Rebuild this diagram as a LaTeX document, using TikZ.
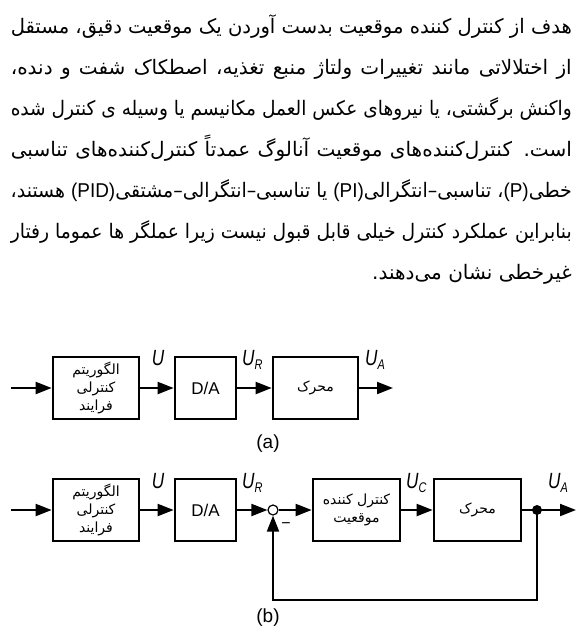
\documentclass[tikz,border=0pt]{standalone}
\usepackage{fontspec}
\usepackage{graphicx}
\usetikzlibrary{arrows.meta}
\TeXXeTstate=1
\newfontfamily\arabicfont[Script=Arabic]{DejaVu Sans}
\newfontfamily\latinsans{Liberation Sans}
\newlength\parw
\setlength\parw{561pt}
\newcommand\jline[1]{%
  \setbox0\hbox{\beginR #1\endR}%
  \ifdim\wd0>\parw \resizebox{\parw}{\height}{\box0}%
  \else \hbox to \parw{\beginR #1\endR}\fi}
\newcommand\lat[1]{\beginL{\latinsans #1}\endL}
\newcommand\sigl[2]{\scalebox{0.78}[1]{U\raisebox{-4.5pt}{\fontsize{14}{14}\selectfont #2}}}
\begin{document}
\begin{tikzpicture}[x=1pt,y=-1pt,
  blk/.style={draw, line width=2.7pt, inner sep=0pt, minimum height=62pt, align=center,
    font=\arabicfont\fontsize{14}{18}\selectfont},
  conn/.style={line width=2pt, -{Triangle[length=16pt,width=12pt]}},
  wire/.style={line width=2pt},
  sig/.style={font=\latinsans\itshape\fontsize{22}{22}\selectfont, inner sep=0pt},
  para/.style={anchor=base east, inner sep=0pt, font=\arabicfont\fontsize{20}{22}\selectfont},
  captxt/.style={font=\latinsans\fontsize{19}{19}\selectfont, inner sep=0pt}
]
\fill[white] (0,0) rectangle (582,630);
\useasboundingbox (0,0) rectangle (582,630);

% paragraph
\node[para] (l1) at (572,33) {\jline{هدف از کنترل کننده موقعیت بدست آوردن یک موقعیت دقیق، مستقل}};
\node[para] (l2) at (572,74) {\jline{از اختلالاتی مانند تغییرات ولتاژ منبع تغذیه، اصطکاک شفت و دنده،}};
\node[para] (l3) at (572,115) {\jline{واکنش برگشتی، یا نیروهای عکس العمل مکانیسم یا وسیله ی کنترل شده}};
\node[para] (l4) at (572,156) {\jline{است. کنترل‌کننده‌های موقعیت آنالوگ عمدتاً کنترل‌کننده‌های تناسبی}};
\node[para] (l5) at (572,197) {\jline{خطی\lat{(P)}، تناسبی–انتگرالی\lat{(PI)} یا تناسبی–انتگرالی–مشتقی\lat{(PID)} هستند،}};
\node[para] (l6) at (572,238) {\jline{بنابراین عملکرد کنترل خیلی قابل قبول نیست زیرا عملگر ها عموما رفتار}};
\node[para] (l7) at (572,279) {\beginR غیرخطی نشان می‌دهند.\endR};

% diagram (a)
\coordinate (ina) at (11,388);
\node[blk, minimum width=86pt] (alga) at (96,388) {الگوریتم\\کنترلی\\فرایند};
\node[blk, minimum width=61pt, font=\latinsans\fontsize{17}{17}\selectfont] (daa) at (205.5,388) {D/A};
\node[blk, minimum width=85pt] (mota) at (315.5,388) {محرک};
\coordinate (outa) at (393,388);
\draw[conn] (ina) -- (alga);
\draw[conn] (alga) -- (daa);
\draw[conn] (daa) -- (mota);
\draw[conn] (mota) -- (outa);
\node[sig] (ua) at (158,358) {\scalebox{0.78}[1]{U}};
\node[sig, anchor=north west] (ura) at (242,350) {\sigl{U}{R}};
\node[sig, anchor=north west] (uaa) at (365,350) {\sigl{U}{A}};
\node[captxt] (capa) at (268,444) {(a)};

% diagram (b)
\coordinate (inb) at (11,510);
\node[blk, minimum width=86pt] (algb) at (96,510) {الگوریتم\\کنترلی\\فرایند};
\node[blk, minimum width=61pt, font=\latinsans\fontsize{17}{17}\selectfont] (dab) at (205.5,510) {D/A};
\node[circle, draw, line width=1.2pt, fill=white, inner sep=0pt, minimum size=10pt] (sum) at (273,510) {};
\node[blk, minimum width=87pt] (ctrl) at (356.5,510) {\beginR کنترل کننده\endR\\موقعیت};
\node[blk, minimum width=87pt] (motb) at (477.5,510) {محرک};
\node[circle, fill=black, inner sep=0pt, minimum size=10pt] (dot) at (537,510) {};
\coordinate (outb) at (576,510);
\coordinate (fb) at (273,600);
\draw[conn] (inb) -- (algb);
\draw[conn] (algb) -- (dab);
\draw[conn] (dab) -- (sum);
\draw[conn] (sum) -- (ctrl);
\draw[conn] (ctrl) -- (motb);
\draw[wire] (motb) -- (dot.center);
\draw[conn] (dot.center) -- (outb);
\draw[conn, line join=miter] (dot.center) |- (fb) -- (sum);
\node[font=\latinsans\fontsize{16}{16}\selectfont, inner sep=0pt] (minus) at (286,526) {−};
\node[sig] (ub) at (158,481) {\scalebox{0.78}[1]{U}};
\node[sig, anchor=north west] (urb) at (242,473) {\sigl{U}{R}};
\node[sig, anchor=north west] (ucb) at (406,473) {\sigl{U}{C}};
\node[sig, anchor=north west] (uab) at (548,473) {\sigl{U}{A}};
\node[captxt] (capb) at (268,618) {(b)};
\end{tikzpicture}
\end{document}
